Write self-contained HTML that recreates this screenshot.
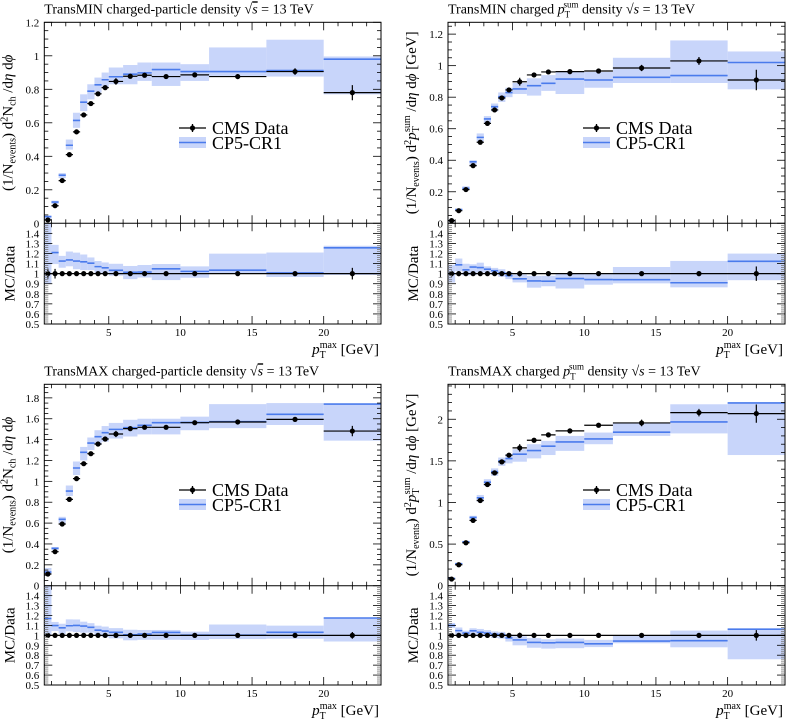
<!DOCTYPE html>
<html><head><meta charset="utf-8">
<style>
html,body{margin:0;padding:0;background:#fff;}
svg{display:block;font-family:"Liberation Serif","DejaVu Serif",serif;}
</style></head>
<body>
<svg id="chart" width="786" height="720" viewBox="0 0 786 720" xmlns="http://www.w3.org/2000/svg">
<defs></defs>
</svg>
<script>
// shared binning
const binEdges = [0.5,1,1.5,2,2.5,3,3.5,4,4.5,5,6,7,8,10,12,16,20,24];
const binCenters = [0.75,1.25,1.75,2.25,2.75,3.25,3.75,4.25,4.75,5.5,6.5,7.5,9,11,14,18,22];
const xTickLabels = [5,10,15,20];
const ratioTickLabels = [0.5,0.6,0.7,0.8,0.9,1,1.1,1.2,1.3,1.4];

// TransMIN Nch
const tlData = [0.02,0.105,0.255,0.41,0.546,0.647,0.715,0.773,0.81,0.847,0.878,0.884,0.876,0.886,0.876,0.906,0.78];
const tlErr  = [0.001,0.005,0.005,0.006,0.006,0.006,0.006,0.007,0.01,0.02,0.008,0.008,0.008,0.008,0.015,0.02,0.045];
const tlMc   = [0.04,0.127,0.287,0.466,0.614,0.723,0.789,0.827,0.857,0.875,0.89,0.898,0.918,0.906,0.906,0.912,0.98];
const tlLo   = [0.018,0.115,0.27,0.44,0.57,0.67,0.74,0.78,0.81,0.83,0.83,0.85,0.82,0.85,0.88,0.876,0.77];
const tlHi   = [0.045,0.135,0.30,0.50,0.66,0.77,0.83,0.87,0.90,0.93,0.945,0.96,0.96,0.95,1.05,1.096,0.996];
const tlYTicks = [0,0.2,0.4,0.6,0.8,1,1.2];

// TransMIN pTsum
const trData = [0.017,0.08,0.214,0.366,0.514,0.634,0.719,0.795,0.846,0.898,0.941,0.96,0.962,0.966,0.985,1.03,0.909];
const trErr  = [0.0005,0.002,0.004,0.005,0.006,0.007,0.008,0.01,0.012,0.025,0.008,0.008,0.008,0.01,0.02,0.025,0.065];
const trMc   = [0.017,0.087,0.222,0.39,0.545,0.662,0.74,0.803,0.829,0.852,0.873,0.888,0.915,0.909,0.926,0.937,1.02];
const trLo   = [0.0155,0.082,0.21,0.36,0.52,0.64,0.71,0.77,0.80,0.82,0.81,0.84,0.82,0.86,0.89,0.89,0.85];
const trHi   = [0.0185,0.092,0.235,0.40,0.57,0.68,0.76,0.83,0.86,0.89,0.92,0.94,0.96,0.96,1.05,1.16,1.09];
const trYTicks = [0,0.2,0.4,0.6,0.8,1,1.2];

// TransMAX Nch
const blData = [0.112,0.326,0.591,0.827,1.026,1.169,1.265,1.358,1.406,1.454,1.505,1.518,1.518,1.562,1.569,1.594,1.482];
const blErr  = [0.002,0.006,0.01,0.012,0.012,0.012,0.012,0.012,0.015,0.03,0.012,0.012,0.012,0.012,0.015,0.02,0.05];
const blMc   = [0.131,0.358,0.636,0.907,1.128,1.278,1.367,1.428,1.466,1.498,1.514,1.537,1.562,1.565,1.572,1.642,1.741];
const blLo   = [0.112,0.34,0.60,0.86,1.06,1.20,1.30,1.35,1.38,1.41,1.43,1.45,1.45,1.49,1.51,1.54,1.39];
const blHi   = [0.17,0.37,0.66,0.96,1.19,1.33,1.42,1.49,1.53,1.56,1.59,1.60,1.60,1.62,1.74,1.75,1.74];
const blYTicks = [0,0.2,0.4,0.6,0.8,1,1.2,1.4,1.6,1.8];

// TransMAX pTsum
const brData = [0.08,0.252,0.516,0.784,1.024,1.216,1.356,1.488,1.568,1.656,1.748,1.812,1.86,1.928,1.956,2.08,2.068];
const brErr  = [0.001,0.004,0.008,0.012,0.015,0.015,0.015,0.02,0.025,0.045,0.015,0.015,0.015,0.02,0.04,0.045,0.11];
const brMc   = [0.088,0.264,0.528,0.82,1.056,1.244,1.372,1.5,1.528,1.58,1.624,1.676,1.728,1.764,1.844,1.968,2.196];
const brLo   = [0.086,0.255,0.51,0.79,1.01,1.20,1.32,1.44,1.47,1.49,1.53,1.57,1.62,1.70,1.80,1.83,1.57];
const brHi   = [0.09,0.272,0.54,0.84,1.09,1.28,1.41,1.54,1.58,1.64,1.70,1.74,1.80,1.84,1.96,2.18,2.20];
const brYTicks = [0,0.5,1,1.5,2];

const NS = "http://www.w3.org/2000/svg";
const svg = document.getElementById('chart');
const defs = svg.querySelector('defs');
const BAND = "#c8d5fa", LINE = "#4a7bec";

function mk(tag, attrs, parent){
  const e = document.createElementNS(NS, tag);
  for (const k in attrs) e.setAttribute(k, attrs[k]);
  (parent||svg).appendChild(e);
  return e;
}
function fmt(v){ return (Math.round(v*100)/100).toString(); }

const panels = [
  {id:'tl', L:44.3, R:381, T:22.3, M:223.3, B:324, ymax:1.2, minor:0.05, ticks:tlYTicks,
   data:tlData, err:tlErr, mc:tlMc, lo:tlLo, hi:tlHi, kind:'nch', title:'TransMIN charged-particle density', legX:179, legY:128},
  {id:'tr', L:448, R:785, T:22.3, M:223.3, B:324, ymax:1.275, minor:0.05, ticks:trYTicks,
   data:trData, err:trErr, mc:trMc, lo:trLo, hi:trHi, kind:'pt', title:'TransMIN charged', legX:583, legY:128},
  {id:'bl', L:44.3, R:381, T:384.3, M:585.7, B:685, ymax:1.93, minor:0.05, ticks:blYTicks,
   data:blData, err:blErr, mc:blMc, lo:blLo, hi:blHi, kind:'nch', title:'TransMAX charged-particle density', legX:179, legY:490},
  {id:'br', L:448, R:785, T:384.3, M:585.7, B:685, ymax:2.42, minor:0.1, ticks:brYTicks,
   data:brData, err:brErr, mc:brMc, lo:brLo, hi:brHi, kind:'pt', title:'TransMAX charged', legX:583, legY:490}
];

panels.forEach(p => {
  const g = mk('g', {});
  
  
  const xS = v => p.L + (v - 0.5) / (24 - 0.5) * (p.R - p.L);
  const yS = v => p.M - v / p.ymax * (p.M - p.T);
  const rS = v => p.B - (v - 0.5) / 1.0 * (p.B - p.M);

  const cm = mk('clipPath', {id:'cm-'+p.id}, defs);
  mk('rect', {x:p.L, y:p.T, width:p.R-p.L, height:p.M-p.T}, cm);
  const cr = mk('clipPath', {id:'cr-'+p.id}, defs);
  mk('rect', {x:p.L, y:p.M, width:p.R-p.L, height:p.B-p.M}, cr);

  const gm = mk('g', {'clip-path':'url(#cm-'+p.id+')'}, g);
  
  
  const gr = mk('g', {'clip-path':'url(#cr-'+p.id+')'}, g);
  
  

  for (let i=0;i<binCenters.length;i++){
    const x0 = xS(binEdges[i]), x1 = xS(binEdges[i+1]);
    const b = mk('rect', {x:x0, y:yS(p.hi[i]), width:x1-x0, height:yS(p.lo[i])-yS(p.hi[i]), fill:BAND}, gm);
    
    
    const rh = p.hi[i]/p.data[i], rl = p.lo[i]/p.data[i];
    const rb = mk('rect', {x:x0, y:rS(rh), width:x1-x0, height:rS(rl)-rS(rh), fill:BAND}, gr);
    
    
  }
  for (let i=0;i<binCenters.length;i++){
    const x0 = xS(binEdges[i]), x1 = xS(binEdges[i+1]);
    const l = mk('line', {x1:x0, x2:x1, y1:yS(p.mc[i]), y2:yS(p.mc[i]), stroke:LINE, 'stroke-width':1.6}, gm);
    
    
    const r = p.mc[i]/p.data[i];
    const rl = mk('line', {x1:x0, x2:x1, y1:rS(r), y2:rS(r), stroke:LINE, 'stroke-width':1.6}, gr);
    
    
  }
  const r1 = mk('line', {x1:p.L, x2:p.R, y1:rS(1), y2:rS(1), stroke:'#000', 'stroke-width':1.2}, gr);
  
  
  for (let i=0;i<binCenters.length;i++){
    const x0 = xS(binEdges[i]), x1 = xS(binEdges[i+1]), xc = xS(binCenters[i]);
    const y = yS(p.data[i]);
    mk('line', {x1:x0, x2:x1, y1:y, y2:y, stroke:'#000', 'stroke-width':1.2}, gm);
    mk('line', {x1:xc, x2:xc, y1:yS(p.data[i]+p.err[i]), y2:yS(p.data[i]-p.err[i]), stroke:'#000', 'stroke-width':1.2}, gm);
    const c = mk('circle', {cx:xc, cy:y, r:2.6, fill:'#000'}, gm);
    
    
    const re = p.err[i]/p.data[i];
    mk('line', {x1:xc, x2:xc, y1:rS(1+re), y2:rS(1-re), stroke:'#000', 'stroke-width':1.2}, gr);
    const rc = mk('circle', {cx:xc, cy:rS(1), r:2.6, fill:'#000'}, gr);
    
    
  }

  mk('rect', {x:p.L, y:p.T, width:p.R-p.L, height:p.B-p.T, fill:'none', stroke:'#000', 'stroke-width':1}, g);
  mk('line', {x1:p.L, x2:p.R, y1:p.M, y2:p.M, stroke:'#000', 'stroke-width':1}, g);

  const ax = mk('g', {stroke:'#000', 'stroke-width':0.8}, g);
  
  
  for (let v=1; v<=24; v++){
    const x = xS(v); const major = (v%5===0); const len = major?8:4;
    [p.T, p.M].forEach(yb => { mk('line', {x1:x, x2:x, y1:yb, y2:yb+len}, ax); });
    [p.M, p.B].forEach(yb => { mk('line', {x1:x, x2:x, y1:yb, y2:yb-len}, ax); });
  }
  xTickLabels.forEach(v => {
    const t = mk('text', {x:xS(v), y:p.B+12, 'font-size':11, 'text-anchor':'middle'}, g);
    t.textContent = v;
    
    
  });
  const xt = mk('text', {x:p.R-2, y:p.B+30, 'font-size':15, 'text-anchor':'end'}, g);
  
  
  xt.innerHTML = '<tspan font-style="italic">p</tspan><tspan font-size="10" dy="4">T</tspan><tspan font-size="10" dx="-6" dy="-10">max</tspan><tspan dy="6"> [GeV]</tspan>';

  const ay = mk('g', {stroke:'#000', 'stroke-width':0.8}, g);
  
  
  const nMin = Math.floor(p.ymax/p.minor + 1e-6);
  for (let k=1; k<=nMin; k++){
    const v = k*p.minor; const y = yS(v);
    const major = p.ticks.some(t => Math.abs(t-v)<1e-6);
    const len = major?8:4;
    mk('line', {x1:p.L, x2:p.L+len, y1:y, y2:y}, ay);
    mk('line', {x1:p.R, x2:p.R-len, y1:y, y2:y}, ay);
  }
  p.ticks.forEach(v => {
    const t = mk('text', {x:p.L-5, y:yS(v)+4, 'font-size':11, 'text-anchor':'end'}, g);
    t.textContent = fmt(v);
    
    
  });
  for (let k=0; k<=50; k++){
    const v = 0.5 + k*0.02; const y = rS(v);
    const major = (k%5===0); const len = major?8:4;
    mk('line', {x1:p.L, x2:p.L+len, y1:y, y2:y, stroke: major?'#000':'#777'}, ay);
    mk('line', {x1:p.R, x2:p.R-len, y1:y, y2:y, stroke: major?'#000':'#777'}, ay);
  }
  ratioTickLabels.forEach(v => {
    const t = mk('text', {x:p.L-5, y:rS(v)+4, 'font-size':11, 'text-anchor':'end'}, g);
    t.textContent = fmt(v);
    
    
  });

  const yc = (p.T + p.M)/2;
  const lx = p.L - 32;
  const yt = mk('text', {x:0, y:0, 'font-size':15, 'text-anchor':'middle', transform:'translate('+(lx)+','+(yc)+') rotate(-90)'}, g);
  
  
  if (p.kind==='nch'){
    yt.innerHTML = '(1/N<tspan font-size="10" dy="3">events</tspan><tspan dy="-3">) d</tspan><tspan font-size="10" dy="-5">2</tspan><tspan dy="5">N</tspan><tspan font-size="10" dy="3">ch</tspan><tspan dy="-3"> /d</tspan><tspan font-style="italic">η</tspan> d<tspan font-style="italic">ϕ</tspan>';
  } else {
    yt.innerHTML = '(1/N<tspan font-size="10" dy="3">events</tspan><tspan dy="-3">) d</tspan><tspan font-size="10" dy="-5">2</tspan><tspan dy="5" font-style="italic">p</tspan><tspan font-size="10" dy="3">T</tspan><tspan font-size="10" dx="-5" dy="-9">sum</tspan><tspan dy="6"> /d</tspan><tspan font-style="italic">η</tspan> d<tspan font-style="italic">ϕ</tspan> [GeV]';
  }
  const rt = mk('text', {x:0, y:0, 'font-size':15, 'text-anchor':'middle', transform:'translate('+(lx+2)+','+((p.M+p.B)/2)+') rotate(-90)'}, g);
  rt.textContent = 'MC/Data';
  
  

  const tt = mk('text', {x:p.L, y:p.T-9, 'font-size':14}, g);
  
  
  if (p.kind==='nch'){
    tt.innerHTML = p.title + ' √<tspan font-style="italic" text-decoration="overline">s</tspan> = 13 TeV';
  } else {
    tt.innerHTML = p.title + ' <tspan font-style="italic">p</tspan><tspan font-size="9" dy="4">T</tspan><tspan font-size="9" dx="-6" dy="-10">sum</tspan><tspan dy="6"> density √</tspan><tspan font-style="italic">s</tspan> = 13 TeV';
  }

  const lg = mk('g', {}, g);
  
  
  mk('line', {x1:p.legX, x2:p.legX+27, y1:p.legY, y2:p.legY, stroke:'#000', 'stroke-width':1.3}, lg);
  mk('line', {x1:p.legX+13.5, x2:p.legX+13.5, y1:p.legY-4, y2:p.legY+4, stroke:'#000', 'stroke-width':1.3}, lg);
  mk('circle', {cx:p.legX+13.5, cy:p.legY, r:2.6, fill:'#000'}, lg);
  const l1 = mk('text', {x:p.legX+33, y:p.legY+6, 'font-size':18, 'font-family':'"Liberation Serif", serif'}, lg);
  l1.textContent = 'CMS Data';
  
  
  mk('rect', {x:p.legX, y:p.legY+9, width:27, height:11, fill:BAND}, lg);
  mk('line', {x1:p.legX, x2:p.legX+27, y1:p.legY+14.5, y2:p.legY+14.5, stroke:LINE, 'stroke-width':1.6}, lg);
  const l2 = mk('text', {x:p.legX+33, y:p.legY+21, 'font-size':18}, lg);
  l2.textContent = 'CP5-CR1';
  
  
});
</script>
</body></html>
